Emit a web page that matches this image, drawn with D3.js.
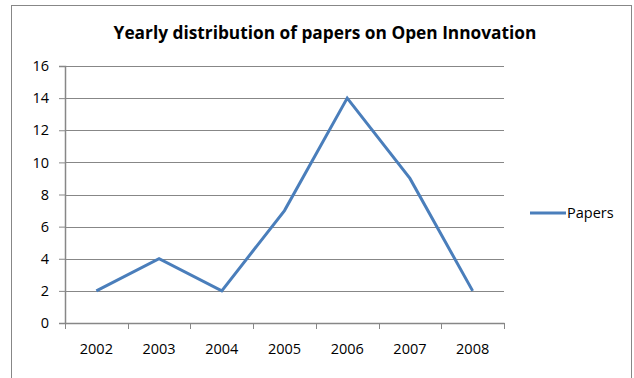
<!DOCTYPE html>
<html>
<head>
<meta charset="utf-8">
<script src="https://cdn.jsdelivr.net/npm/d3@7"></script>
<style>
  body { margin: 0; background: #fff; }
  text { font-family: "Open Sans", sans-serif; fill: #000; }
</style>
</head>
<body>
<div id="chart"></div>
<script>
const years = ['2002', '2003', '2004', '2005', '2006', '2007', '2008']
const papers = [2, 4, 2, 7, 14, 9, 2]
const yTicks = [0, 2, 4, 6, 8, 10, 12, 14, 16]
const seriesName = 'Papers'
const title = 'Yearly distribution of papers on Open Innovation'

const W = 634, H = 378
const margin = { top: 66, left: 65, right: 130, bottom: 55 }
const width = 504 - margin.left
const height = 323 - margin.top

const root = d3.select('#chart').append('svg')
  .attr('width', W).attr('height', H)

// chart frame
root.append('rect')
  .attr('x', 11.5).attr('y', 5.5)
  .attr('width', 620).attr('height', 400)
  .attr('fill', 'none').attr('stroke', '#878787').attr('stroke-width', 1)

root.append('text')
  .attr('x', 325).attr('y', 39)
  .attr('text-anchor', 'middle')
  .attr('font-size', 17.3).attr('font-weight', 'bold')
  .text(title)

const svg = root.append('g')
  .attr('transform', 'translate(' + margin.left + ',' + margin.top + ')')

const x = d3.scaleBand().domain(years).range([0, width])
const y = d3.scaleLinear().domain([0, 16]).range([height, 0])

// gridlines
svg.selectAll('.grid').data(yTicks.filter(d => d > 0)).enter()
  .append('line')
  .attr('x1', 0).attr('x2', width)
  .attr('y1', d => Math.round(y(d)) + 0.5).attr('y2', d => Math.round(y(d)) + 0.5)
  .attr('stroke', '#878787').attr('stroke-width', 1)

const yAxis = svg.append('g')
  .call(d3.axisLeft(y).tickValues(yTicks).tickSize(6).tickPadding(10).tickFormat(d3.format('d')))
yAxis.select('.domain').attr('stroke', '#878787').attr('stroke-width', 1.5)
yAxis.selectAll('.tick line').attr('stroke', '#878787')
yAxis.selectAll('.tick text').attr('font-size', 14.5).attr('font-family', '"Open Sans", sans-serif')

const xAxis = svg.append('g')
  .attr('transform', 'translate(0,' + height + ')')
  .call(d3.axisBottom(x).tickSize(0).tickPadding(21))
xAxis.select('.domain').attr('stroke', '#878787').attr('stroke-width', 1.5)
xAxis.selectAll('.tick text').attr('font-size', 14.5).attr('font-family', '"Open Sans", sans-serif')

// category boundary ticks
svg.selectAll('.xb').data(years.concat(['end'])).enter()
  .append('line')
  .attr('x1', (d, i) => Math.round(i * x.step()) + 0.5)
  .attr('x2', (d, i) => Math.round(i * x.step()) + 0.5)
  .attr('y1', height).attr('y2', height + 6)
  .attr('stroke', '#878787')

const line = d3.line()
  .x((d, i) => x(years[i]) + x.bandwidth() / 2)
  .y(d => y(d))

svg.append('path')
  .datum(papers)
  .attr('d', line)
  .attr('fill', 'none')
  .attr('stroke', '#4a7ebb')
  .attr('stroke-width', 3)
  .attr('stroke-linejoin', 'miter')

// legend
const lg = root.append('g').attr('transform', 'translate(530,213)')
lg.append('line').attr('x1', 0).attr('x2', 36).attr('y1', 0).attr('y2', 0)
  .attr('stroke', '#4a7ebb').attr('stroke-width', 3)
lg.append('text').attr('x', 37).attr('y', 5).attr('font-size', 14.5).text(seriesName)
</script>
</body>
</html>
